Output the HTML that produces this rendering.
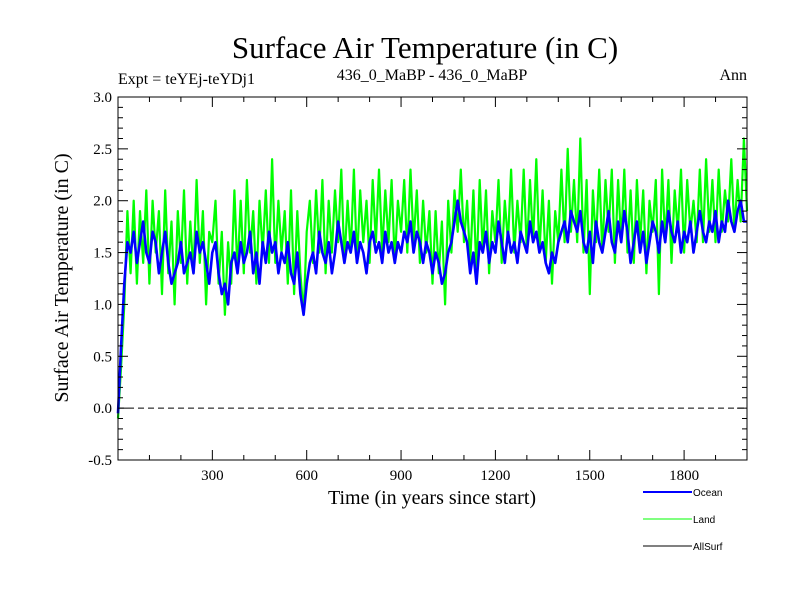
<!DOCTYPE html>
<html><head><meta charset="utf-8"><style>
body{margin:0;background:#fff}
svg text{font-family:"Liberation Serif",serif;fill:#000}
</style></head><body>
<svg id="chart" width="800" height="600" xmlns="http://www.w3.org/2000/svg">
<rect width="800" height="600" fill="#fff"/>
<text x="425" y="58" font-size="31" text-anchor="middle">Surface Air Temperature (in C)</text>
<text x="118" y="84" font-size="16">Expt = teYEj-teYDj1</text>
<text x="432" y="80" font-size="16" text-anchor="middle">436_0_MaBP - 436_0_MaBP</text>
<text x="747" y="80" font-size="16" text-anchor="end">Ann</text>
<text transform="translate(68,278) rotate(-90)" font-size="20" text-anchor="middle">Surface Air Temperature (in C)</text>
<text x="432" y="504" font-size="20" text-anchor="middle">Time (in years since start)</text>
<g id="plot"></g>
<g id="axes"></g>
<g>
<g><line x1="643" y1="492" x2="692" y2="492" stroke="#0000ff" stroke-width="2"/><text x="693" y="496" style="font-family:'Liberation Sans',sans-serif" font-size="10">Ocean</text></g>
<g><line x1="643" y1="519" x2="692" y2="519" stroke="#00ff00" stroke-width="1"/><text x="693" y="523" style="font-family:'Liberation Sans',sans-serif" font-size="10">Land</text></g>
<g><line x1="643" y1="546" x2="692" y2="546" stroke="#000" stroke-width="1"/><text x="693" y="550" style="font-family:'Liberation Sans',sans-serif" font-size="10">AllSurf</text></g>
</g>
</svg>
<script>
const startYear = 0, stepYears = 10;
const oceanValues = [-0.05,0.6,1.2,1.6,1.5,1.7,1.4,1.6,1.8,1.5,
1.4,1.7,1.6,1.3,1.5,1.7,1.4,1.2,1.3,1.4,
1.6,1.3,1.4,1.5,1.3,1.7,1.5,1.6,1.4,1.2,
1.5,1.6,1.3,1.1,1.2,1.0,1.4,1.5,1.3,1.6,
1.4,1.5,1.7,1.3,1.5,1.2,1.6,1.4,1.7,1.5,
1.6,1.3,1.5,1.4,1.6,1.3,1.2,1.5,1.1,0.9,
1.2,1.4,1.5,1.3,1.7,1.5,1.4,1.6,1.3,1.5,
1.8,1.6,1.4,1.6,1.5,1.7,1.4,1.6,1.5,1.3,
1.6,1.7,1.5,1.6,1.4,1.7,1.5,1.6,1.4,1.6,
1.5,1.7,1.6,1.8,1.5,1.7,1.6,1.4,1.6,1.5,
1.3,1.5,1.4,1.2,1.3,1.5,1.6,1.8,2.0,1.8,
1.7,1.6,1.3,1.5,1.2,1.6,1.5,1.7,1.4,1.6,
1.5,1.8,1.6,1.4,1.7,1.5,1.6,1.4,1.7,1.6,
1.5,1.8,1.6,1.7,1.5,1.6,1.4,1.3,1.5,1.4,
1.6,1.7,1.8,1.6,1.9,1.8,1.7,1.9,1.6,1.5,
1.7,1.4,1.8,1.6,1.5,1.7,1.9,1.6,1.5,1.8,
1.6,1.9,1.7,1.4,1.6,1.8,1.5,1.7,1.4,1.6,
1.8,1.7,1.5,1.8,1.6,1.9,1.7,1.6,1.8,1.5,
1.7,1.6,1.8,1.5,1.7,1.9,1.7,1.6,1.8,1.7,
1.9,1.6,1.8,1.7,2.0,1.8,1.7,1.9,2.0,1.8,1.8];
const landValues = [-0.1,0.4,1.0,1.9,1.3,2.0,1.2,1.9,1.4,2.1,
1.2,2.0,1.5,1.9,1.1,2.1,1.3,1.8,1.0,1.9,
1.4,2.1,1.2,1.8,1.3,2.2,1.4,1.9,1.0,1.7,
1.6,2.0,1.2,1.7,0.9,1.6,1.2,2.1,1.3,2.0,
1.3,2.2,1.5,1.9,1.2,2.0,1.5,2.1,1.4,2.4,
1.4,2.0,1.5,1.9,1.2,2.1,1.1,1.9,1.3,0.9,
1.7,2.0,1.4,2.1,1.5,2.2,1.3,2.0,1.5,2.1,
1.6,2.3,1.4,2.0,1.5,2.3,1.4,2.1,1.6,2.0,
1.4,2.2,1.6,2.3,1.5,2.1,1.6,2.2,1.4,2.0,
1.7,2.2,1.5,2.3,1.6,2.1,1.4,2.0,1.5,1.9,
1.2,1.9,1.3,1.8,1.0,2.0,1.5,2.1,1.7,2.3,
1.6,2.0,1.4,2.1,1.3,2.2,1.5,2.1,1.3,1.9,
1.6,2.2,1.4,2.0,1.6,2.3,1.5,2.0,1.6,2.3,
1.5,2.2,1.6,2.4,1.5,2.1,1.4,2.0,1.2,1.9,
1.6,2.3,1.6,2.5,1.7,2.2,1.6,2.6,1.5,2.2,
1.1,2.1,1.6,2.3,1.5,2.2,1.7,2.3,1.4,2.2,
1.6,2.3,1.5,2.1,1.4,2.2,1.6,2.1,1.3,2.0,
1.7,2.2,1.1,2.3,1.6,2.2,1.4,2.1,1.7,2.3,
1.5,2.2,1.7,2.0,1.6,2.3,1.6,2.4,1.7,2.2,
1.6,2.3,1.7,2.1,1.8,2.4,1.7,2.2,1.8,2.6,1.9];
const yTicks = [-0.5,0.0,0.5,1.0,1.5,2.0,2.5,3.0];
const xTicks = [300,600,900,1200,1500,1800];

const X0=118,X1=747,Y0=97,Y1=460;
const xMin=0,xMax=2000,yMin=-0.5,yMax=3.0;
function sx(v){return X0+(v-xMin)/(xMax-xMin)*(X1-X0);}
function sy(v){return Y1-(v-yMin)/(yMax-yMin)*(Y1-Y0);}
const NS="http://www.w3.org/2000/svg";
const plot=document.getElementById('plot'), axes=document.getElementById('axes');
function mk(tag,attrs,parent){const e=document.createElementNS(NS,tag);for(const k in attrs)e.setAttribute(k,attrs[k]);parent.appendChild(e);return e;}

const zl=mk('line',{x1:X0,x2:X1,y1:sy(0),y2:sy(0),stroke:'#000','stroke-width':1,'stroke-dasharray':'6,4'},plot);



function series(vals,color,w,name){
  const pts=vals.map((v,i)=>sx(startYear+i*stepYears).toFixed(1)+','+sy(v).toFixed(1)).join(' ');
  const p=mk('polyline',{points:pts,fill:'none',stroke:color,'stroke-width':w,'stroke-linejoin':'round'},plot);
  
  
}
series(landValues,'#00ff00',2.2,'land-series');
series(oceanValues,'#0000ff',2.6,'ocean-series');

const fr=mk('rect',{x:X0,y:Y0,width:X1-X0,height:Y1-Y0,fill:'none',stroke:'#000','stroke-width':1},axes);



for(let k=0;k<=35;k++){
  const v=yMin+k*0.1, y=sy(v), major=(k%5===0);
  const len=major?10:5;
  mk('line',{x1:X0,x2:X0+len,y1:y,y2:y,stroke:'#000'},axes);
  mk('line',{x1:X1,x2:X1-len,y1:y,y2:y,stroke:'#000'},axes);
}
yTicks.forEach(v=>{
  const t=mk('text',{x:X0-6,y:sy(v)+5,'font-size':15,'text-anchor':'end'},axes);
  t.textContent=v.toFixed(1);
  
  
});
for(let v=100;v<2000;v+=100){
  const major=(v%300===0), len=major?10:5;
  mk('line',{x1:sx(v),x2:sx(v),y1:Y1,y2:Y1-len,stroke:'#000'},axes);
  mk('line',{x1:sx(v),x2:sx(v),y1:Y0,y2:Y0+len,stroke:'#000'},axes);
}
xTicks.forEach(v=>{
  const t=mk('text',{x:sx(v),y:Y1+20,'font-size':15,'text-anchor':'middle'},axes);
  t.textContent=String(v);
  
  
});
</script>
</body></html>
